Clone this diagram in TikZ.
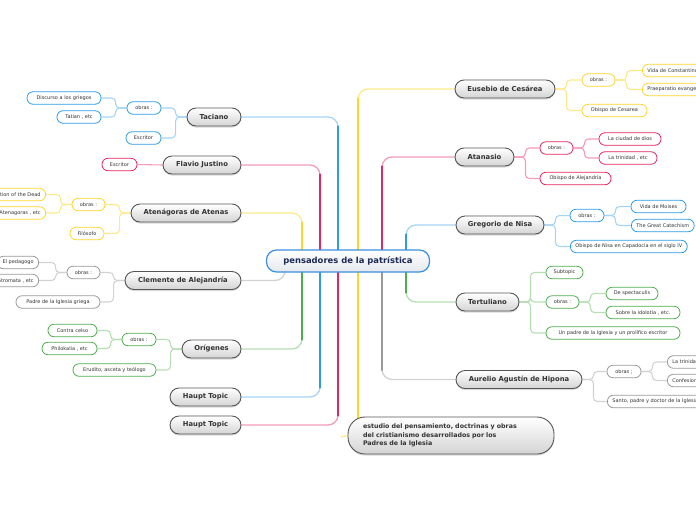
\documentclass[tikz,border=0pt]{standalone}
\usepackage{fontspec}
\setmainfont{DejaVu Sans}
\usetikzlibrary{shadows,calc}
\pgfdeclarelayer{bg}
\pgfsetlayers{bg,main}
\definecolor{mainB}{HTML}{555555}
\definecolor{mainF}{HTML}{D4D4D4}
\definecolor{mainT}{HTML}{333333}
\definecolor{subT}{HTML}{333333}
\definecolor{cenB}{HTML}{3B8FDB}
\definecolor{cenF}{HTML}{E4E8EE}
\definecolor{cenT}{HTML}{1C2A55}
\definecolor{blueB}{HTML}{2D9CE8}
\definecolor{blueL}{HTML}{A6D4F5}
\definecolor{pinkB}{HTML}{E5245F}
\definecolor{pinkL}{HTML}{F49BB8}
\definecolor{yelB}{HTML}{FFD52E}
\definecolor{yelL}{HTML}{FFE88C}
\definecolor{greB}{HTML}{4DAE4F}
\definecolor{greL}{HTML}{B5DEB2}
\definecolor{graB}{HTML}{9A9A9A}
\definecolor{graL}{HTML}{D2D2D2}
\tikzset{
  mainnode/.style={draw=mainB, line width=0.9pt, rounded corners=9pt, minimum height=18pt,
    inner xsep=4pt, inner ysep=0pt, top color=white, bottom color=mainF,
    font=\fontsize{6.8}{8}\selectfont\bfseries, text=mainT,
    drop shadow={shadow xshift=0pt, shadow yshift=-1.5pt, opacity=0.3}},
  notenode/.style={draw=mainB, line width=0.9pt, rounded corners=17pt, minimum height=37pt,
    inner xsep=15pt, inner ysep=0pt, text width=176pt, align=left, top color=white, bottom color=mainF,
    font=\fontsize{6.3}{8.5}\selectfont\bfseries, text=mainT,
    drop shadow={shadow xshift=0pt, shadow yshift=-1.5pt, opacity=0.3}},
  cen/.style={draw=cenB, line width=1.2pt, rounded corners=10pt, minimum height=22pt, minimum width=163pt,
    inner ysep=0pt, top color=white, bottom color=cenF,
    font=\fontsize{8.4}{10}\selectfont\bfseries, text=cenT},
  subnode/.style={draw=#1, fill=white, line width=0.8pt, rounded corners=6pt, minimum height=12.5pt,
    inner xsep=5pt, inner ysep=0pt, font=\fontsize{5}{6}\selectfont, text=subT},
  conn/.style={draw=#1, line width=1.1pt, rounded corners=4pt},
  trunk/.style={draw=#1, line width=1.3pt, rounded corners=10pt},
  trunkthick/.style={draw=#1, line width=2.4pt, line cap=round},
}
\begin{document}
\begin{tikzpicture}[x=1pt, y=-1pt]
\useasboundingbox (0,0) rectangle (696,520);
% central
\node[cen] (c) at (348,261) {pensadores de la patrística};
% left main topics
\node[mainnode, minimum width=54pt] (tac) at (214,117) {Taciano};
\node[mainnode, minimum width=78pt] (fla) at (202,165) {Flavio Justino};
\node[mainnode, minimum width=110pt] (ate) at (186,213) {Atenágoras de Atenas};
\node[mainnode, minimum width=116pt] (cle) at (183,280.5) {Clemente de Alejandría};
\node[mainnode, minimum width=59pt] (ori) at (211.5,349) {Orígenes};
\node[mainnode, minimum width=71pt] (h1) at (205.5,397) {Haupt Topic};
\node[mainnode, minimum width=71pt] (h2) at (205.5,425) {Haupt Topic};
% right main topics
\node[mainnode, minimum width=100pt] (eus) at (505,89) {Eusebio de Cesárea};
\node[mainnode, minimum width=59pt] (ata) at (484.5,157) {Atanasio};
\node[mainnode, minimum width=88pt] (gre) at (500,225) {Gregorio de Nisa};
\node[mainnode, minimum width=63pt] (ter) at (487.5,302) {Tertuliano};
\node[mainnode, minimum width=126pt] (aur) at (519,379.5) {Aurelio Agustín de Hipona};
\node[notenode] (note) at (451,435.5) {estudio del pensamiento, doctrinas y obras\\del cristianismo desarrollados por los\\Padres de la Iglesia};
% Taciano
\node[subnode=blueB, minimum width=34pt] (tobr) at (144,108) {obras :};
\node[subnode=blueB, minimum width=35pt] (tesc) at (143.5,138) {Escritor};
\node[subnode=blueB, minimum width=74pt] (tdis) at (64,98) {Discurso a los griegos};
\node[subnode=blueB, minimum width=44pt] (ttat) at (79,117) {Tatian , etc};
% Flavio Justino
\node[subnode=pinkB, minimum width=35pt] (fesc) at (119.5,164.5) {Escritor};
% Atenagoras
\node[subnode=yelB, minimum width=33pt] (aobr) at (88.5,204.5) {obras :};
\node[subnode=yelB, minimum width=34pt] (afil) at (87,233.5) {Filósofo};
\node[subnode=yelB, anchor=east] (ares) at (46,194.5) {Resurrection of the Dead};
\node[subnode=yelB, anchor=east] (aate) at (46,213) {Atenagoras , etc};
% Clemente
\node[subnode=graB, minimum width=33pt] (cobr) at (83.5,272.5) {obras :};
\node[subnode=graB, minimum width=84pt] (cpad) at (58,302) {Padre de la Iglesia griega};
\node[subnode=graB, anchor=east] (cped) at (39,262.5) {El pedagogo};
\node[subnode=graB, anchor=east] (cstr) at (39,280.5) {Stromata , etc};
% Origenes
\node[subnode=greB, minimum width=34pt] (oobr) at (139,339.5) {obras :};
\node[subnode=greB, minimum width=83pt] (oeru) at (114.5,370) {Erudito, asceta y teólogo};
\node[subnode=greB, minimum width=49pt] (ocon) at (72.5,330.5) {Contra celso};
\node[subnode=greB, minimum width=55pt] (ophi) at (69.5,348.5) {Philokalia , etc};
% Eusebio
\node[subnode=yelB, minimum width=33pt] (eobr) at (598.5,80) {obras :};
\node[subnode=yelB, minimum width=65pt] (eobi) at (614.5,110.5) {Obispo de Cesarea};
\node[subnode=yelB, anchor=west] (evid) at (642,70.5) {Vida de Constantino};
\node[subnode=yelB, anchor=west] (epra) at (642,89.5) {Praeparatio evangelica};
% Atanasio
\node[subnode=pinkB, minimum width=33pt] (nobr) at (556.5,148) {obras :};
\node[subnode=pinkB, minimum width=71pt] (nobi) at (575.5,178.5) {Obispo de Alejandría};
\node[subnode=pinkB, minimum width=62pt] (nciu) at (630,139) {La ciudad de dios};
\node[subnode=pinkB, minimum width=58pt] (ntri) at (628,158) {La trinidad , etc};
% Gregorio
\node[subnode=blueB, minimum width=34pt] (gobr) at (587,215.5) {obras :};
\node[subnode=blueB, anchor=west] (gobi) at (570,246.5) {Obispo de Nisa en Capadocia en el siglo IV};
\node[subnode=blueB, minimum width=55pt] (gvid) at (658.5,206.5) {Vida de Moises};
\node[subnode=blueB, anchor=west] (ggre) at (631,225.5) {The Great Catechism};
% Tertuliano
\node[subnode=greB, minimum width=37pt] (rsub) at (564.5,272.5) {Subtopic};
\node[subnode=greB, minimum width=33pt] (robr) at (562.5,302) {obras :};
\node[subnode=greB, minimum width=134pt] (rpad) at (613,333) {Un padre de la Iglesia y un prolífico escritor};
\node[subnode=greB, minimum width=52pt] (rspe) at (632,293.5) {De spectaculis};
\node[subnode=greB, minimum width=74pt] (rsob) at (643,312.5) {Sobre la idolotia , etc.};
% Aurelio
\node[subnode=graB, minimum width=34pt] (uobr) at (624,371.5) {obras ;};
\node[subnode=graB, anchor=west] (usan) at (607,401.5) {Santo, padre y doctor de la Iglesia};
\node[subnode=graB, anchor=west] (utri) at (667,362) {La trinidad};
\node[subnode=graB, anchor=west] (ucon) at (667,380.5) {Confesiones};
% trunk start coordinates
\coordinate (sB1) at (338,261);
\coordinate (sP1) at (320,261);
\coordinate (sY1) at (302,261);
\coordinate (sG1) at (285,265);
\coordinate (sY2) at (358,261);
\coordinate (sP2) at (382,261);
\coordinate (sB2) at (406,261);
\coordinate (nst) at (341,437);
\begin{pgfonlayer}{bg}
% trunks left
\draw[trunk=blueL] (sB1) |- (tac.east);
\draw[trunkthick=blueB] (sB1) -- (sB1 |- tac.south);
\draw[trunk=pinkL] (sP1) |- (fla.east);
\draw[trunkthick=pinkB] (sP1) -- (sP1 |- fla.south);
\draw[trunk=yelL] (sY1) |- (ate.east);
\draw[trunkthick=yelB] (sY1) -- (sY1 |- ate.south);
\draw[trunk=graL] (sG1) |- (cle.east);
\draw[trunkthick=graB] (sG1) -- (sG1 |- cle.north);
\draw[trunk=greL] (sY1) |- (ori.east);
\draw[trunkthick=greB] (sY1) -- (sY1 |- ori.north);
\draw[trunk=blueL] (sP1) |- (h1.east);
\draw[trunkthick=blueB] (sP1) -- (sP1 |- h1.north);
\draw[trunk=pinkL] (sB1) |- (h2.east);
\draw[trunkthick=pinkB] (sB1) -- (sB1 |- h2.north);
% trunks right
\draw[trunk=yelL] (sY2) |- (eus.west);
\draw[trunkthick=yelB] (sY2) -- (sY2 |- eus.south);
\draw[trunkthick=yelB] (sY2) -- (sY2 |- note.center);
\draw[yelL, line width=1.3pt] (nst) -- (note.west);
\draw[trunk=pinkL] (sP2) |- (ata.west);
\draw[trunkthick=pinkB] (sP2) -- (sP2 |- ata.south);
\draw[trunk=blueL] (sB2) |- (gre.west);
\draw[trunkthick=blueB] (sB2) -- (sB2 |- gre.south);
\draw[trunk=greL] (sB2) |- (ter.west);
\draw[trunkthick=greB] (sB2) -- (sB2 |- ter.north);
\draw[trunk=graL] (sP2) |- (aur.west);
\draw[trunkthick=graB] (sP2) -- (sP2 |- aur.north);
% left branches
\draw[conn=blueL] (tac.west) -- ++(-11,0) |- (tobr.east);
\draw[conn=blueL] (tac.west) -- ++(-11,0) |- (tesc.east);
\draw[conn=blueL] (tobr.west) -- ++(-11,0) |- (tdis.east);
\draw[conn=blueL] (tobr.west) -- ++(-11,0) |- (ttat.east);
\draw[conn=pinkL] (fla.west) -- (fesc.east);
\draw[conn=yelL] (ate.west) -- ++(-11,0) |- (aobr.east);
\draw[conn=yelL] (ate.west) -- ++(-11,0) |- (afil.east);
\draw[conn=yelL] (aobr.west) -- ++(-11,0) |- (ares.east);
\draw[conn=yelL] (aobr.west) -- ++(-11,0) |- (aate.east);
\draw[conn=graL] (cle.west) -- ++(-11,0) |- (cobr.east);
\draw[conn=graL] (cle.west) -- ++(-11,0) |- (cpad.east);
\draw[conn=graL] (cobr.west) -- ++(-11,0) |- (cped.east);
\draw[conn=graL] (cobr.west) -- ++(-11,0) |- (cstr.east);
\draw[conn=greL] (ori.west) -- ++(-11,0) |- (oobr.east);
\draw[conn=greL] (ori.west) -- ++(-11,0) |- (oeru.east);
\draw[conn=greL] (oobr.west) -- ++(-11,0) |- (ocon.east);
\draw[conn=greL] (oobr.west) -- ++(-11,0) |- (ophi.east);
% right branches
\draw[conn=yelL] (eus.east) -- ++(11,0) |- (eobr.west);
\draw[conn=yelL] (eus.east) -- ++(11,0) |- (eobi.west);
\draw[conn=yelL] (eobr.east) -- ++(11,0) |- (evid.west);
\draw[conn=yelL] (eobr.east) -- ++(11,0) |- (epra.west);
\draw[conn=pinkL] (ata.east) -- ++(11,0) |- (nobr.west);
\draw[conn=pinkL] (ata.east) -- ++(11,0) |- (nobi.west);
\draw[conn=pinkL] (nobr.east) -- ++(11,0) |- (nciu.west);
\draw[conn=pinkL] (nobr.east) -- ++(11,0) |- (ntri.west);
\draw[conn=blueL] (gre.east) -- ++(11,0) |- (gobr.west);
\draw[conn=blueL] (gre.east) -- ++(11,0) |- (gobi.west);
\draw[conn=blueL] (gobr.east) -- ++(11,0) |- (gvid.west);
\draw[conn=blueL] (gobr.east) -- ++(11,0) |- (ggre.west);
\draw[conn=greL] (ter.east) -- ++(11,0) |- (rsub.west);
\draw[conn=greL] (ter.east) -- ++(11,0) |- (robr.west);
\draw[conn=greL] (ter.east) -- ++(11,0) |- (rpad.west);
\draw[conn=greL] (robr.east) -- ++(11,0) |- (rspe.west);
\draw[conn=greL] (robr.east) -- ++(11,0) |- (rsob.west);
\draw[conn=graL] (aur.east) -- ++(11,0) |- (uobr.west);
\draw[conn=graL] (aur.east) -- ++(11,0) |- (usan.west);
\draw[conn=graL] (uobr.east) -- ++(11,0) |- (utri.west);
\draw[conn=graL] (uobr.east) -- ++(11,0) |- (ucon.west);
\end{pgfonlayer}
\end{tikzpicture}
\end{document}
